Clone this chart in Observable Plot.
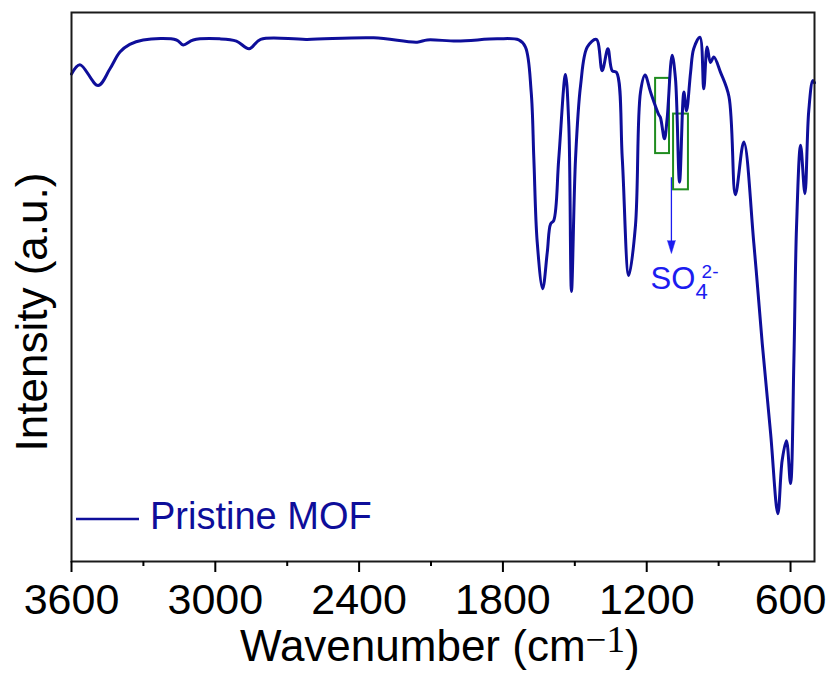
<!DOCTYPE html>
<html>
<head>
<meta charset="utf-8">
<script src="https://cdn.jsdelivr.net/npm/d3@7"></script>
<script src="https://cdn.jsdelivr.net/npm/@observablehq/plot@0.6"></script>
<style>
  html, body { margin: 0; padding: 0; background: #fff; }
  #chart { width: 832px; height: 677px; }
</style>
</head>
<body>
<div id="chart"></div>
<script>
// Spectrum: wavenumber (cm-1) and intensity (a.u.)
const wavenumber = [3600,3565,3489,3440,3398,3357,3301,3162,3134,3092,2981,2912,2859,2811,2617,2339,2158,2116,1991,1824,1734,1706,1682,1671,1657,1634,1615,1601,1588,1567,1539,1525,1514,1497,1476,1448,1410,1386,1362,1344,1326,1302,1275,1247,1226,1207,1184,1150,1143,1126,1115,1094,1080,1063,1045,1034,1017,1004,978,962,948,934,920,892,857,830,795,753,718,683,653,635,617,600,586,575,558,540,524,507,500];
const intensity = [88.8,90.5,86.7,89.7,92.8,94.2,95.0,95.0,94.1,95.0,95.2,94.8,93.4,95.1,95.1,95.4,94.6,95.0,94.8,95.2,95.0,93.7,85.5,73.4,58.2,49.7,56.3,61.5,62.1,73.4,88.7,79.4,49.2,73.4,86.7,93.7,95.1,89.4,93.4,89.4,89.1,73.4,52.1,61.2,85.5,88.6,85.5,81.4,80.9,77.0,80.6,92.2,87.9,69.1,85.5,82.1,89.1,93.4,95.5,86.1,93.7,90.9,91.9,89.1,84.7,66.8,76.4,57.9,39.7,23.3,8.7,18.4,22.0,14.2,36.6,60.9,75.8,67.0,82.1,87.6,87.2];

// Axis ticks
const majorTicks = [3600, 3000, 2400, 1800, 1200, 600];
const minorTicks = [3300, 2700, 2100, 1500, 900];

// Highlight boxes (sulfate bands)
const boxX1 = [1163, 1088];
const boxX2 = [1105, 1026];
const boxY1 = [74.3, 67.7];
const boxY2 = [88.0, 81.5];

// Annotation arrow & label
const arrowX = 1097, arrowYStart = 69.9, arrowYEnd = 56.1;
const labelX = 1184, labelY = 49.7;

const seriesName = "Pristine MOF";
const xTitle = "Wavenumber (cm";
const yTitle = "Intensity (a.u.)";

const spectrum = wavenumber.map((w, i) => ({w, v: intensity[i]}));
const boxes = boxX1.map((x1, i) => ({x1, x2: boxX2[i], y1: boxY1[i], y2: boxY2[i]}));

const lineColor = "#0e0e9a";
const annColor = "#1c1cf0";
const boxColor = "#1f8c1f";

const hasSpike = typeof Plot.spike === "function";
const arrowHead = hasSpike
  ? Plot.vector([{x: arrowX, y: arrowYEnd}], {x: "x", y: "y", shape: "spike", length: 13, r: 4, rotate: 180, anchor: "end", fill: annColor, stroke: annColor, strokeWidth: 0.5})
  : Plot.arrow([{x: arrowX, y1: arrowYStart, y2: arrowYEnd}], {x: "x", y1: "y1", y2: "y2", stroke: annColor, strokeWidth: 1.3, headLength: 13, headAngle: 35});

const svg = Plot.plot({
  width: 832,
  height: 677,
  marginLeft: 71,
  marginRight: 18,
  marginTop: 12,
  marginBottom: 116,
  style: {background: "#fff", color: "#000", fontFamily: "'Liberation Sans', Arial, sans-serif"},
  x: {type: "linear", domain: [3600, 500]},
  y: {domain: [0, 100], axis: null},
  marks: [
    Plot.rect(boxes, {x1: "x1", x2: "x2", y1: "y1", y2: "y2", fill: "none", stroke: boxColor, strokeWidth: 2}),
    Plot.ruleX([arrowX], {y1: arrowYStart, y2: arrowYEnd + 2, stroke: annColor, strokeWidth: 1.3}),
    arrowHead,
    Plot.text(["SO"], {x: () => labelX, y: () => labelY, text: d => d, textAnchor: "start", lineAnchor: "bottom", fontSize: 31, fill: annColor}),
    Plot.text(["4"], {x: () => labelX, y: () => labelY, text: d => d, textAnchor: "start", lineAnchor: "bottom", fontSize: 22, dx: 45, dy: 10, fill: annColor}),
    Plot.text(["2-"], {x: () => labelX, y: () => labelY, text: d => d, textAnchor: "start", lineAnchor: "bottom", fontSize: 19, dx: 51, dy: -11, fill: annColor}),
    Plot.line(spectrum, {x: "w", y: "v", stroke: lineColor, strokeWidth: 3, curve: "catmull-rom"}),
    Plot.frame({stroke: "#1a1a1a", strokeWidth: 2}),
    Plot.axisX({ticks: majorTicks, tickSize: 11, tickPadding: 11, tickFormat: d => String(d), fontSize: 43, strokeWidth: 2, label: null}),
    Plot.axisX({ticks: minorTicks, tickSize: 5, tickFormat: () => "", strokeWidth: 2, label: null})
  ]
});

const s = d3.select(svg);
// Y title
s.append("text")
  .attr("transform", "translate(47,312) rotate(-90)")
  .attr("text-anchor", "middle")
  .attr("font-family", "'Liberation Sans', Arial, sans-serif")
  .attr("font-size", 44)
  .attr("fill", "#000")
  .text(yTitle);
// X title with superscript
const xt = s.append("text")
  .attr("x", 240).attr("y", 661)
  .attr("text-anchor", "start")
  .attr("font-family", "'Liberation Sans', Arial, sans-serif")
  .attr("font-size", 44)
  .attr("fill", "#000");
xt.append("tspan").text(xTitle);
xt.append("tspan").attr("font-family", "'Liberation Serif', 'Times New Roman', serif").attr("font-size", 37).attr("dy", -9).text("\u22121");
xt.append("tspan").attr("dy", 9).text(")");
// Legend
s.append("line").attr("x1", 76).attr("x2", 139).attr("y1", 519).attr("y2", 519)
  .attr("stroke", lineColor).attr("stroke-width", 2.6);
s.append("text").attr("x", 150).attr("y", 529)
  .attr("text-anchor", "start")
  .attr("font-family", "'Liberation Sans', Arial, sans-serif")
  .attr("font-size", 38).attr("fill", lineColor).text(seriesName);

document.getElementById("chart").appendChild(svg);
</script>
</body>
</html>
